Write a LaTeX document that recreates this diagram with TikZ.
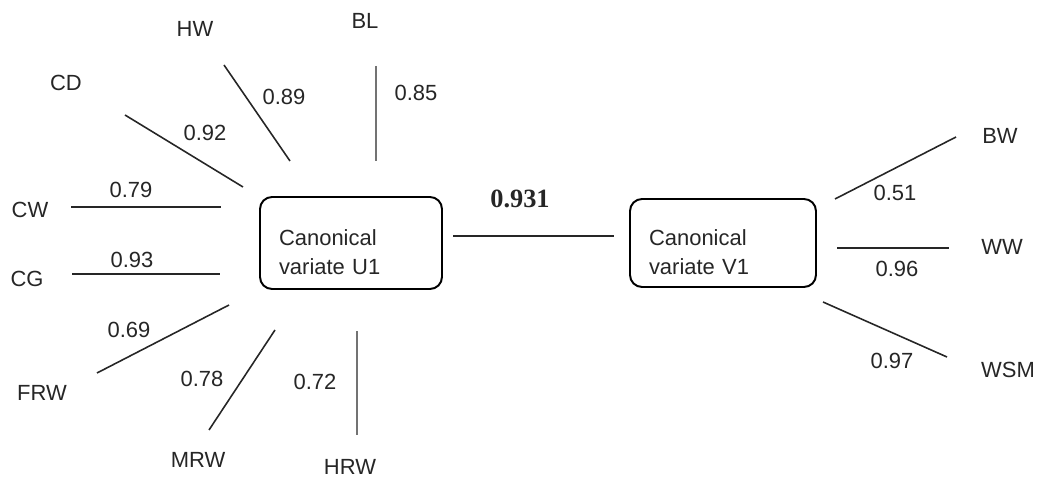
\documentclass[tikz,border=0pt]{standalone}
\usepackage{fontspec}
\setmainfont{Liberation Sans}
\newfontfamily\corrfont{Liberation Serif}
\usepackage{tikz}
\usetikzlibrary{positioning, calc}

\begin{document}
\begin{tikzpicture}[
    x=0.02cm, y=-0.02cm,
    load/.style={line width=0.9pt, black!85},
    vload/.style={line width=1.4pt, black!55},
    varbox/.style={draw, line width=1.1pt, rounded corners=0.24cm, align=left, inner xsep=0.38cm,
        text depth=6.5pt, font=\fontsize{12.5}{16.5}\selectfont, text=black!85},
    lbl/.style={inner sep=0pt, font=\fontsize{12.5}{15}\selectfont, text=black!85},
]
\useasboundingbox (0,0) rectangle (1039,479);
% === Canonical variates ===
\node[varbox, minimum width=3.64cm, minimum height=1.84cm, text width=2.88cm] (u1) at (351, 243) {Canonical\\variate U1};
\node[varbox, minimum width=3.72cm, minimum height=1.76cm, text width=2.96cm] (v1) at (723, 243) {Canonical\\variate V1};
% === Canonical correlation ===
\coordinate (r-a) at (453, 236);
\coordinate (r-b) at (614, 236);
\draw[load, line width=1.2pt] (r-a) -- (r-b);
\node[lbl, font=\corrfont\bfseries\fontsize{15}{18}\selectfont] (rho) at (520, 199) {0.931};
% === Loadings on U1 ===
\coordinate (bl-a) at (376, 66);   \coordinate (bl-b) at (376, 161);
\coordinate (hw-a) at (224, 65);   \coordinate (hw-b) at (290, 161);
\coordinate (cd-a) at (125, 115);  \coordinate (cd-b) at (243, 187);
\coordinate (cw-a) at (71, 207);   \coordinate (cw-b) at (221, 207);
\coordinate (cg-a) at (72, 274);   \coordinate (cg-b) at (220, 274);
\coordinate (frw-a) at (97, 373);  \coordinate (frw-b) at (229, 305);
\coordinate (mrw-a) at (209, 430); \coordinate (mrw-b) at (275, 330);
\coordinate (hrw-a) at (357, 435); \coordinate (hrw-b) at (357, 331);
\draw[vload] (bl-a) -- (bl-b);
\draw[load] (hw-a) -- (hw-b);
\draw[load] (cd-a) -- (cd-b);
\draw[load] (cw-a) -- (cw-b);
\draw[load] (cg-a) -- (cg-b);
\draw[load] (frw-a) -- (frw-b);
\draw[load] (mrw-a) -- (mrw-b);
\draw[vload] (hrw-a) -- (hrw-b);
\node[lbl] (bl) at (365, 21) {BL};
\node[lbl] (hw) at (195, 29) {HW};
\node[lbl] (cd) at (66, 83) {CD};
\node[lbl] (cw) at (30, 210) {CW};
\node[lbl] (cg) at (27, 279) {CG};
\node[lbl] (frw) at (42, 393) {FRW};
\node[lbl] (mrw) at (198, 460) {MRW};
\node[lbl] (hrw) at (350, 467) {HRW};
\node[lbl] (l-bl) at (416, 93) {0.85};
\node[lbl] (l-hw) at (284, 97) {0.89};
\node[lbl] (l-cd) at (205, 133) {0.92};
\node[lbl] (l-cw) at (131, 190) {0.79};
\node[lbl] (l-cg) at (132, 260) {0.93};
\node[lbl] (l-frw) at (129, 330) {0.69};
\node[lbl] (l-mrw) at (202, 379) {0.78};
\node[lbl] (l-hrw) at (315, 382) {0.72};
% === Loadings on V1 ===
\coordinate (bw-a) at (835, 199);  \coordinate (bw-b) at (956, 137);
\coordinate (ww-a) at (837, 248);  \coordinate (ww-b) at (949, 248);
\coordinate (wsm-a) at (823, 302); \coordinate (wsm-b) at (947, 357);
\draw[load] (bw-a) -- (bw-b);
\draw[load] (ww-a) -- (ww-b);
\draw[load] (wsm-a) -- (wsm-b);
\node[lbl] (bw) at (1000, 136) {BW};
\node[lbl] (ww) at (1002, 247) {WW};
\node[lbl] (wsm) at (1008, 370) {WSM};
\node[lbl] (l-bw) at (895, 193) {0.51};
\node[lbl] (l-ww) at (897, 269) {0.96};
\node[lbl] (l-wsm) at (892, 361) {0.97};
\end{tikzpicture}
\end{document}
